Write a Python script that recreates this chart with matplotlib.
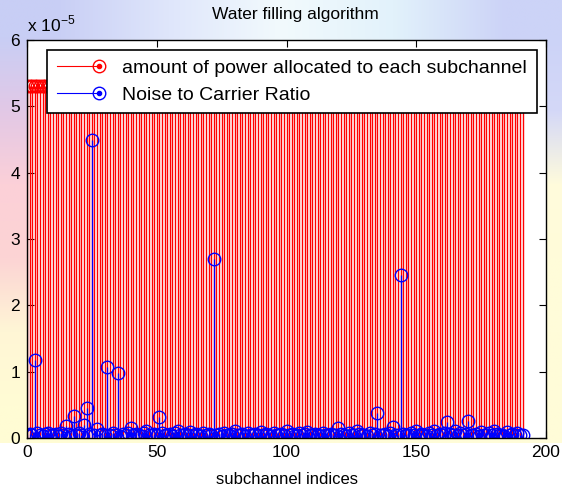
import numpy as np
import matplotlib
matplotlib.use("Agg")
import matplotlib.pyplot as plt
from matplotlib.lines import Line2D
from matplotlib.legend_handler import HandlerBase
from matplotlib.container import StemContainer
from matplotlib.colors import to_rgb

plt.rcParams['font.family'] = ['Liberation Sans', 'DejaVu Sans']
plt.rcParams['mathtext.fontset'] = 'custom'
plt.rcParams['mathtext.rm'] = 'Liberation Sans'

# subchannel indices 0..191
subchannels = list(range(192))

# noise to carrier ratio (units of 1e-5)
ncr = [
    0.05, 0.06, 0.04, 1.18, 0.07, 0.05, 0.03, 0.06, 0.08, 0.04, 0.05, 0.06, 0.03, 0.07, 0.05, 0.18,
    0.06, 0.04, 0.33, 0.05, 0.07, 0.04, 0.20, 0.45, 0.06, 4.50, 0.05, 0.13, 0.04, 0.06, 0.05, 1.07,
    0.04, 0.07, 0.05, 0.98, 0.03, 0.06, 0.05, 0.08, 0.15, 0.04, 0.06, 0.05, 0.03, 0.07, 0.10, 0.05,
    0.04, 0.06, 0.05, 0.31, 0.07, 0.04, 0.05, 0.06, 0.03, 0.08, 0.11, 0.05, 0.04, 0.06, 0.05, 0.09,
    0.04, 0.06, 0.05, 0.03, 0.07, 0.05, 0.06, 0.04, 2.70, 0.05, 0.06, 0.03, 0.07, 0.05, 0.04, 0.06,
    0.10, 0.05, 0.04, 0.06, 0.03, 0.07, 0.05, 0.04, 0.06, 0.05, 0.09, 0.04, 0.06, 0.05, 0.03, 0.07,
    0.05, 0.04, 0.06, 0.05, 0.10, 0.04, 0.06, 0.03, 0.05, 0.07, 0.04, 0.06, 0.09, 0.05, 0.04, 0.06,
    0.05, 0.03, 0.07, 0.05, 0.04, 0.06, 0.05, 0.04, 0.15, 0.06, 0.05, 0.03, 0.07, 0.04, 0.05, 0.10,
    0.06, 0.04, 0.05, 0.03, 0.07, 0.05, 0.06, 0.37, 0.04, 0.05, 0.06, 0.03, 0.07, 0.17, 0.05, 0.04,
    2.45, 0.06, 0.05, 0.04, 0.07, 0.05, 0.10, 0.04, 0.06, 0.05, 0.03, 0.07, 0.05, 0.11, 0.04, 0.06,
    0.05, 0.08, 0.24, 0.06, 0.04, 0.10, 0.05, 0.07, 0.04, 0.06, 0.25, 0.05, 0.04, 0.06, 0.03, 0.09,
    0.05, 0.04, 0.07, 0.05, 0.10, 0.06, 0.04, 0.05, 0.03, 0.09, 0.05, 0.06, 0.04, 0.07, 0.05, 0.04,
]

# power allocated to each subchannel (units of 1e-5)
power = [5.3] * 192

labels = ['amount of power allocated to each subchannel', 'Noise to Carrier Ratio']
xticks = [0, 50, 100, 150, 200]
yticks = [0, 1, 2, 3, 4, 5, 6]


class StemHandler(HandlerBase):
    # matlab-like stem legend icon: line with a circle + dot at the right end
    def create_artists(self, legend, orig_handle, xdescent, ydescent,
                       width, height, fontsize, trans):
        c = orig_handle.markerline.get_markeredgecolor()
        y = height / 2 - ydescent
        xe = width - xdescent
        line = Line2D([-xdescent, xe], [y, y], color=c, lw=0.8)
        circ = Line2D([xe], [y], marker='o', mfc='none', mec=c, ms=9, mew=1.0)
        dot = Line2D([xe], [y], marker='o', color=c, ms=3)
        for a in (line, circ, dot):
            a.set_transform(trans)
        return [line, circ, dot]


fig = plt.figure(figsize=(5.62, 4.91), dpi=100, facecolor='white')

# washed-out backdrop behind the plot (screenshot look)
bg_cols = [
    ['#c8cef5', '#dfe6fb', '#f2fafd', '#e2f2fb', '#ccd3f7'],
    ['#e2c8e6', '#eeeefb', '#fbfdff', '#ecf4fb', '#d4d8f8'],
    ['#fcd0d8', '#fde4e6', '#ffffff', '#fffaea', '#fffbdc'],
    ['#fcd4d4', '#fde6e0', '#ffffff', '#fffce4', '#fffcd9'],
    ['#fff6d6', '#fffad8', '#fffcdc', '#fffcda', '#fffcd9'],
    ['#fffcd4', '#fffcd6', '#fffcd8', '#fffcd8', '#fffcd8'],
]
bg = np.array([[to_rgb(c) for c in row] for row in bg_cols])
bgax = fig.add_axes([0, 1 - 443 / 491, 1, 443 / 491])
bgax.imshow(bg, aspect='auto', interpolation='bilinear', extent=[0, 1, 0, 1])
bgax.axis('off')
bgax.set_zorder(0)

ax = fig.add_axes([27 / 562, 1 - 438 / 491, 519 / 562, 398 / 491])
ax.set_zorder(1)
ax.set_facecolor('white')

p = ax.stem(subchannels, power, linefmt='-', markerfmt='o', basefmt=' ')
p.stemlines.set_color('#ff0000')
p.stemlines.set_linewidth(1.0)
p.markerline.set_markerfacecolor('none')
p.markerline.set_markeredgecolor('#ff0000')
p.markerline.set_markersize(9)
p.markerline.set_markeredgewidth(1.0)

n = ax.stem(subchannels, ncr, linefmt='-', markerfmt='o', basefmt=' ')
n.stemlines.set_color('#0000ff')
n.stemlines.set_linewidth(0.9)
n.markerline.set_markerfacecolor('none')
n.markerline.set_markeredgecolor('#0000ff')
n.markerline.set_markersize(9)
n.markerline.set_markeredgewidth(1.0)

ax.set_xlim(0, 200)
ax.set_ylim(0, 6)
ax.set_xticks(xticks)
ax.set_yticks(yticks)
ax.tick_params(direction='in', length=5, width=0.8, labelsize=12.5,
               top=True, right=True, pad=5)
for s in ax.spines.values():
    s.set_linewidth(1.0)

ax.set_title('Water filling algorithm', fontsize=12.5, x=0.518, pad=15)
ax.set_xlabel('subchannel indices', fontsize=12, labelpad=9)
ax.text(0.0, 1.015, r'x 10$^{\mathrm{-5}}$', transform=ax.transAxes,
        fontsize=12.5, ha='left', va='bottom')

leg = ax.legend([p, n], labels, handler_map={StemContainer: StemHandler()},
                loc='upper left', bbox_to_anchor=(0.0385, 0.975, 0.944, 0.0),
                mode='expand', fontsize=14, frameon=True, fancybox=False,
                framealpha=1, edgecolor='black', handlelength=2.2,
                handletextpad=1.15, labelspacing=0.45, borderpad=0.5,
                borderaxespad=0)
leg.get_frame().set_linewidth(1.2)

fig.savefig('out.png', dpi=100, facecolor='white')
